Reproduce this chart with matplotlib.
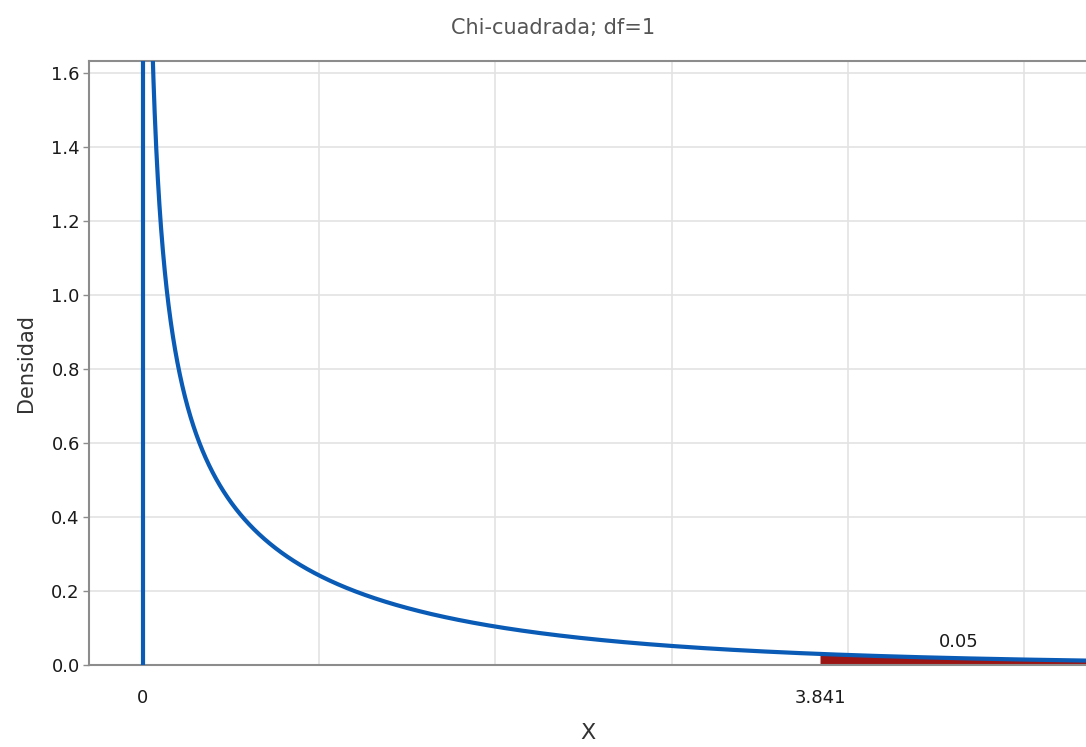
import numpy as np
import matplotlib
matplotlib.use('Agg')
from matplotlib import pyplot as plt

# distribution and rejection region
dfree = 1
x_crit = 3.841
alpha = 0.05
x_ticks = [0, x_crit]
x_tick_labels = ['0', '3.841']
y_ticks = [0.0, 0.2, 0.4, 0.6, 0.8, 1.0, 1.2, 1.4, 1.6]
x_grid = [1, 2, 3, 4, 5]

blue = '#0a5bb5'
red = '#9b1515'
grid_c = '#e3e3e3'
spine_c = '#8c8c8c'


def chi2_pdf(x, k):
    # chi-square density, k degrees of freedom
    from math import gamma
    return x ** (k / 2 - 1) * np.exp(-x / 2) / (2 ** (k / 2) * gamma(k / 2))


plt.rcParams['font.family'] = ['DejaVu Sans']
fig = plt.figure(figsize=(10.86, 7.47), dpi=100)
ax = fig.add_axes([0.0824, 0.1098, 0.9176, 0.8085])

xmin, xmax = -0.303, 5.35
ymax = 1.632

xs = np.linspace(0.001, xmax, 3000)
ys = chi2_pdf(xs, dfree)

# shaded upper tail
xt = xs[xs >= x_crit]
ax.fill_between(xt, 0, chi2_pdf(xt, dfree), color=red, lw=0, zorder=2)

ax.vlines(0, 0, ymax, color=blue, lw=3, zorder=3)
ax.plot(xs, ys, color=blue, lw=3, zorder=3, solid_capstyle='butt')

ax.text(4.63, 0.038, '{:.2f}'.format(alpha), ha='center', va='bottom',
        fontsize=13, color='#1a1a1a')

ax.set_xlim(xmin, xmax)
ax.set_ylim(0, ymax)

for gx in x_grid:
    ax.axvline(gx, color=grid_c, lw=1.2, zorder=0)
for gy in y_ticks[1:]:
    ax.axhline(gy, color=grid_c, lw=1.2, zorder=0)

ax.set_xticks(x_ticks)
ax.set_xticklabels(x_tick_labels)
ax.set_yticks(y_ticks)
ax.set_yticklabels(['{:.1f}'.format(v) for v in y_ticks])
ax.tick_params(axis='x', length=0, pad=17, labelsize=13, colors='#1a1a1a')
ax.tick_params(axis='y', length=4, width=1, color=spine_c, pad=3,
               labelsize=13, labelcolor='#1a1a1a')

for s in ['left', 'bottom', 'top']:
    ax.spines[s].set_color(spine_c)
    ax.spines[s].set_linewidth(1.5)
ax.spines['right'].set_visible(False)

ax.set_ylabel('Densidad', fontsize=15, color='#333333', labelpad=11)
ax.set_xlabel('X', fontsize=16, color='#333333', labelpad=12)
fig.text(0.509, 0.962, 'Chi-cuadrada; df=1', ha='center', va='center',
         fontsize=15, color='#555555')

plt.savefig('out.png', dpi=100)
